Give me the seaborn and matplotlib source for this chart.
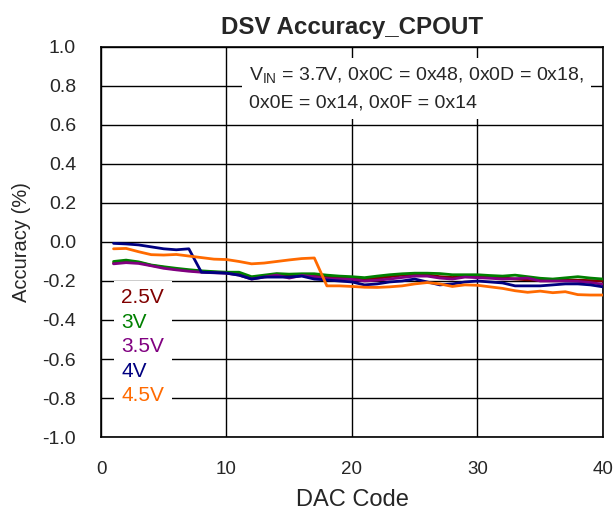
import matplotlib
matplotlib.use("Agg")
import matplotlib.pyplot as plt
from matplotlib.lines import Line2D
import seaborn as sns
import pandas as pd

# DAC code axis
dac_code = list(range(1, 41))

# accuracy (%) per supply voltage
acc_2v5 = [-0.108, -0.100, -0.105, -0.120, -0.130, -0.140, -0.146, -0.152, -0.155, -0.158,
           -0.162, -0.184, -0.176, -0.166, -0.172, -0.166, -0.170, -0.180, -0.183, -0.186,
           -0.192, -0.186, -0.178, -0.170, -0.168, -0.168, -0.178, -0.182, -0.176, -0.178,
           -0.180, -0.184, -0.190, -0.194, -0.196, -0.195, -0.195, -0.196, -0.198, -0.200]
acc_3v = [-0.100, -0.093, -0.102, -0.118, -0.127, -0.135, -0.142, -0.148, -0.152, -0.155,
          -0.155, -0.178, -0.170, -0.162, -0.165, -0.163, -0.163, -0.170, -0.175, -0.178,
          -0.183, -0.175, -0.168, -0.163, -0.160, -0.160, -0.162, -0.168, -0.168, -0.168,
          -0.172, -0.175, -0.170, -0.178, -0.186, -0.190, -0.184, -0.178, -0.185, -0.190]
acc_3v5 = [-0.112, -0.106, -0.110, -0.122, -0.135, -0.143, -0.150, -0.155, -0.158, -0.160,
           -0.170, -0.190, -0.180, -0.170, -0.185, -0.172, -0.178, -0.188, -0.190, -0.192,
           -0.200, -0.196, -0.190, -0.182, -0.175, -0.175, -0.185, -0.190, -0.180, -0.183,
           -0.186, -0.190, -0.188, -0.185, -0.200, -0.200, -0.200, -0.202, -0.208, -0.217]
acc_4v = [-0.007, -0.010, -0.015, -0.025, -0.035, -0.040, -0.035, -0.155, -0.157, -0.160,
          -0.170, -0.190, -0.180, -0.180, -0.180, -0.175, -0.190, -0.195, -0.200, -0.205,
          -0.220, -0.215, -0.205, -0.200, -0.190, -0.205, -0.220, -0.215, -0.205, -0.200,
          -0.205, -0.210, -0.225, -0.225, -0.225, -0.220, -0.215, -0.215, -0.220, -0.230]
acc_4v5 = [-0.035, -0.033, -0.050, -0.065, -0.067, -0.064, -0.072, -0.080, -0.088, -0.090,
           -0.100, -0.112, -0.108, -0.100, -0.092, -0.085, -0.082, -0.225, -0.225, -0.228,
           -0.232, -0.233, -0.230, -0.225, -0.215, -0.208, -0.215, -0.228, -0.220, -0.222,
           -0.230, -0.238, -0.250, -0.258, -0.252, -0.260, -0.255, -0.270, -0.272, -0.272]

labels = ["2.5V", "3V", "3.5V", "4V", "4.5V"]
colors = ["#800000", "#008000", "#800080", "#000080", "#FF6A00"]

df = pd.concat([
    pd.DataFrame({"DAC Code": dac_code, "Accuracy": vals, "VOUT": lab})
    for lab, vals in zip(labels, [acc_2v5, acc_3v, acc_3v5, acc_4v, acc_4v5])
])

sns.set_style("white")
plt.rcParams["font.family"] = ["Liberation Sans", "DejaVu Sans"]
plt.rcParams["mathtext.fontset"] = "custom"
plt.rcParams["mathtext.rm"] = "Liberation Sans"

fig = plt.figure(figsize=(6.14, 5.17), dpi=100)
ax = fig.add_axes([0.1645, 0.1547, 0.8175, 0.7545])

sns.lineplot(data=df, x="DAC Code", y="Accuracy", hue="VOUT", hue_order=labels,
             palette=colors, linewidth=2.0, legend=False, ax=ax, zorder=3)

ax.set_xlim(0, 40)
ax.set_ylim(-1.0, 1.0)
ax.set_xticks([0, 10, 20, 30, 40])
ax.set_yticks([-1.0, -0.8, -0.6, -0.4, -0.2, 0.0, 0.2, 0.4, 0.6, 0.8, 1.0])
ax.set_yticklabels([f"{v:.1f}" for v in ax.get_yticks()])
ax.grid(True, color="black", linewidth=1.0)
ax.set_axisbelow(True)
ax.tick_params(axis="x", length=0, labelsize=13.5, pad=17)
ax.tick_params(axis="y", length=0, labelsize=14, pad=18)
for s in ax.spines.values():
    s.set_color("black")
    s.set_linewidth(1.2)

ax.set_xlabel("DAC Code", fontsize=17, labelpad=8)
ax.set_ylabel("Accuracy (%)", fontsize=14.5, labelpad=8)
ax.set_title("DSV Accuracy_CPOUT", fontsize=17.4, fontweight="bold", pad=9)

ax.text(11.8, 0.785,
        "V$_\\mathregular{IN}$ = 3.7V, 0x0C = 0x48, 0x0D = 0x18,\n0x0E = 0x14, 0x0F = 0x14",
        fontsize=14, ha="left", va="center", linespacing=1.65, zorder=2,
        bbox=dict(facecolor="white", edgecolor="none", pad=5))

handles = [Line2D([], [], color=c, linewidth=0) for c in colors]
leg = ax.legend(handles, labels, loc="upper left", bbox_to_anchor=(0.026, 0.40),
                handlelength=0, handletextpad=0, labelcolor=colors, fontsize=15,
                labelspacing=0.26, frameon=True, facecolor="white", edgecolor="none",
                framealpha=1, fancybox=False, borderpad=0.35, borderaxespad=0)

fig.savefig("out.png", dpi=100)
